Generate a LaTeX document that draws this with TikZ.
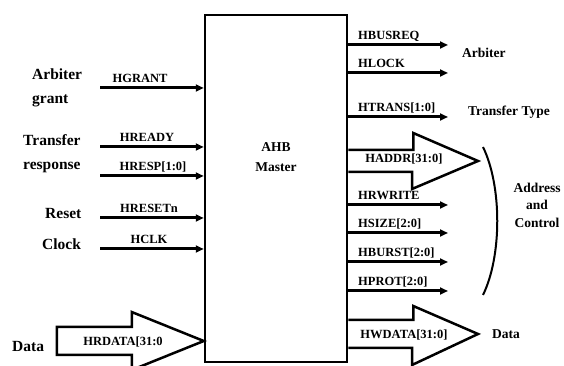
\documentclass[tikz,border=0pt]{standalone}
\usepackage{fontspec}
\setmainfont{Liberation Serif}
\usetikzlibrary{arrows.meta}
\tikzset{
	sig/.style={line width=3pt,-{Triangle[length=8pt,width=7pt]}},
	fat/.style={line width=2.5pt,line join=miter},
	lbl/.style={font=\bfseries\fontsize{12.5}{14}\selectfont,inner sep=0pt},
	side/.style={font=\bfseries\fontsize{15.5}{24}\selectfont,inner sep=0pt,align=left},
	note/.style={font=\bfseries\fontsize{13.5}{17.5}\selectfont,inner sep=0pt,align=center}
}
\begin{document}
\begin{tikzpicture}[x=1pt,y=1pt]
		\useasboundingbox (0,0) rectangle (564,366);
		\node[draw,line width=2.5pt,minimum width=142pt,minimum height=347pt,inner sep=0pt] (master) at (276,177.5) {};
		\node[font=\bfseries\fontsize{13.5}{20}\selectfont,align=center,inner sep=0pt] (name) at (276,209) {AHB\\Master};
		\foreach \yy/\xx/\sig [count=\i] in {278/140/HGRANT,219/147/HREADY,190/153/{HRESP[1:0]},148/149/HRESETn,117/149/HCLK}
		{
			\coordinate (in\i) at (100,\yy);
			\draw[sig] (in\i) -- (in\i -| master.west);
			\node[lbl,anchor=base] (inl\i) at (\xx,\yy+5) {\sig};
		}
		\node[side,anchor=west] (arb) at (32,278) {Arbiter\\grant};
		\node[side,anchor=west] (trf) at (23,212.5) {Transfer\\response};
		\node[side,anchor=west] (rst) at (45,152) {Reset};
		\node[side,anchor=west] (clk) at (42,122) {Clock};
		\node[side,anchor=west] (din) at (12,19) {Data};
		\coordinate (rtip) at (master.west |- 0,25);
		\draw[fat] (rtip) -- ++(-72,29) -- ++(0,-15) -- ++(-75,0) -- ++(0,-28) -- ++(75,0) -- ++(0,-15) -- cycle;
		\node[lbl] (rdat) at (123,24) {HRDATA[31:0};
		\foreach \yy/\sig [count=\i] in {321/HBUSREQ,293/HLOCK,249/{HTRANS[1:0]},161/HRWRITE,133/{HSIZE[2:0]},104/{HBURST[2:0]},75/{HPROT[2:0]}}
		{
			\coordinate (out\i) at (448,\yy);
			\draw[sig] (out\i -| master.east) -- (out\i);
			\node[lbl,anchor=base west] (outl\i) at (358,\yy+5) {\sig};
		}
		\coordinate (atip) at (478,205);
		\draw[fat] (master.east |- 0,216) -- ++(65,0) -- ++(0,17) -- (atip) -- ++(-66,-28) -- ++(0,17) -- (master.east |- 0,194);
		\node[lbl] (addr) at (404,207) {HADDR[31:0]};
		\coordinate (wtip) at (478,32);
		\draw[fat] (master.east |- 0,46) -- ++(65,0) -- ++(0,14) -- (wtip) -- ++(-66,-31) -- ++(0,17) -- (master.east |- 0,18);
		\node[lbl] (wdat) at (404,31) {HWDATA[31:0]};
		\node[note,anchor=west] (arbo) at (462,313) {Arbiter};
		\node[note,anchor=west] (ttype) at (468,254) {Transfer Type};
		\node[note,anchor=west] (dout) at (492,32) {Data};
		\node[note] (ac) at (537,161) {Address\\and\\Control};
		\draw[line width=2pt] (483,219) .. controls (502,180) and (502,110) .. (483,71);
	\end{tikzpicture}
\end{document}
